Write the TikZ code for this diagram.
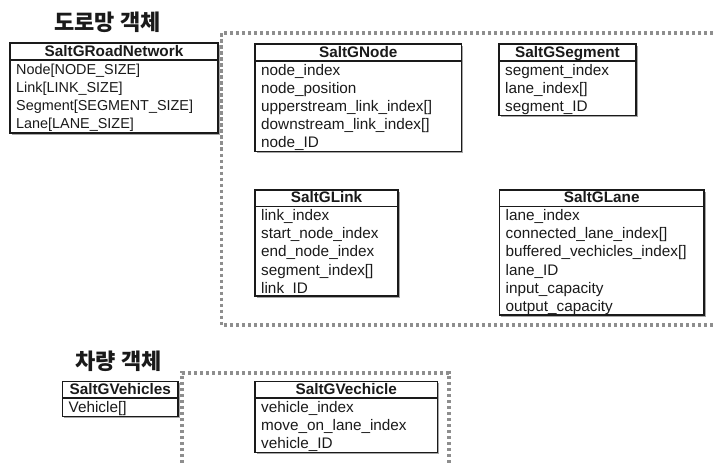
\documentclass[tikz,border=0pt]{standalone}
\usepackage{fontspec}
\setmainfont{Liberation Sans}
\newfontfamily\krfont{Noto Sans CJK KR Black}
\usetikzlibrary{shadows}

\definecolor{ink}{HTML}{1A1A1A}
\definecolor{groupgray}{HTML}{8E8E8E}

\tikzset{
  classframe/.style={draw=ink, line width=1.3pt},
  classshadow/.style={fill=white,
    drop shadow={shadow xshift=1.6pt, shadow yshift=-1.8pt, opacity=.35, fill=black}},
  classtitle/.style={font=\bfseries\fontsize{15.3}{18}\selectfont, inner sep=0pt, text=ink},
  classrow/.style={inner sep=0pt, text=ink},
  groupdots/.style={draw=groupgray, line width=3.4pt, dash pattern=on 3.2pt off 2.8pt},
  sectiontitle/.style={font=\krfont\fontsize{22}{24}\selectfont, inner sep=0pt, text=ink},
}

% #1 name, #2 left, #3 top, #4 right, #5 divider, #6 bottom,
% #7 class name, #8 attribute font size, #9 attribute list
\newcommand\umlclass[9]{%
  \draw[classframe, classshadow] (#2,#3) rectangle (#4,#6);
  \draw[classframe] (#2,#5) -- (#4,#5);
  \node[classtitle, anchor=base] (#1) at ({(#2+#4)/2},{#5-3.6}) {#7};
  \foreach \attr [count=\i] in {#9} {
    \node[classrow, font=\fontsize{#8}{18}\selectfont, anchor=base west]
      (#1-\i) at ({#2+6},{#5+14+(\i-1)*18.2}) {\attr};
  }%
}

\begin{document}
\begin{tikzpicture}[x=1pt, y=-1pt]
  \useasboundingbox (0,0) rectangle (713,463);

  % group frames
  \draw[groupdots] (713,33) -- (221.5,33) -- (221.5,325) -- (713,325);
  \draw[groupdots] (182,463) -- (182,373) -- (449,373) -- (449,463);

  % section titles
  \node[sectiontitle] (roadtitle) at (107.5,22.5) {도로망 객체};
  \node[sectiontitle] (vehtitle) at (118.5,361) {차량 객체};

  % road network objects
  \umlclass{network}{10}{43}{218}{60}{133}{SaltGRoadNetwork}{14.4}
    {Node[NODE\_SIZE], Link[LINK\_SIZE], Segment[SEGMENT\_SIZE], Lane[LANE\_SIZE]}
  \umlclass{gnode}{255}{44}{461.5}{61}{151.5}{SaltGNode}{15.3}
    {node\_index, node\_position, upperstream\_link\_index[], downstream\_link\_index[], node\_ID}
  \umlclass{gsegment}{499}{44}{636}{61}{115.5}{SaltGSegment}{15.3}
    {segment\_index, lane\_index[], segment\_ID}
  \umlclass{glink}{255}{190}{398}{206.5}{296}{SaltGLink}{15.3}
    {link\_index, start\_node\_index, end\_node\_index, segment\_index[], link\_ID}
  \umlclass{glane}{499.5}{190}{704}{206.5}{315}{SaltGLane}{15.3}
    {lane\_index, connected\_lane\_index[], buffered\_vechicles\_index[], lane\_ID, input\_capacity, output\_capacity}

  % vehicle objects
  \umlclass{vehicles}{62.5}{381.5}{178}{398}{416.5}{SaltGVehicles}{15.3}
    {Vehicle[]}
  \umlclass{vehicle}{255}{381.5}{437.5}{398}{452.5}{SaltGVechicle}{15.3}
    {vehicle\_index, move\_on\_lane\_index, vehicle\_ID}
\end{tikzpicture}
\end{document}
